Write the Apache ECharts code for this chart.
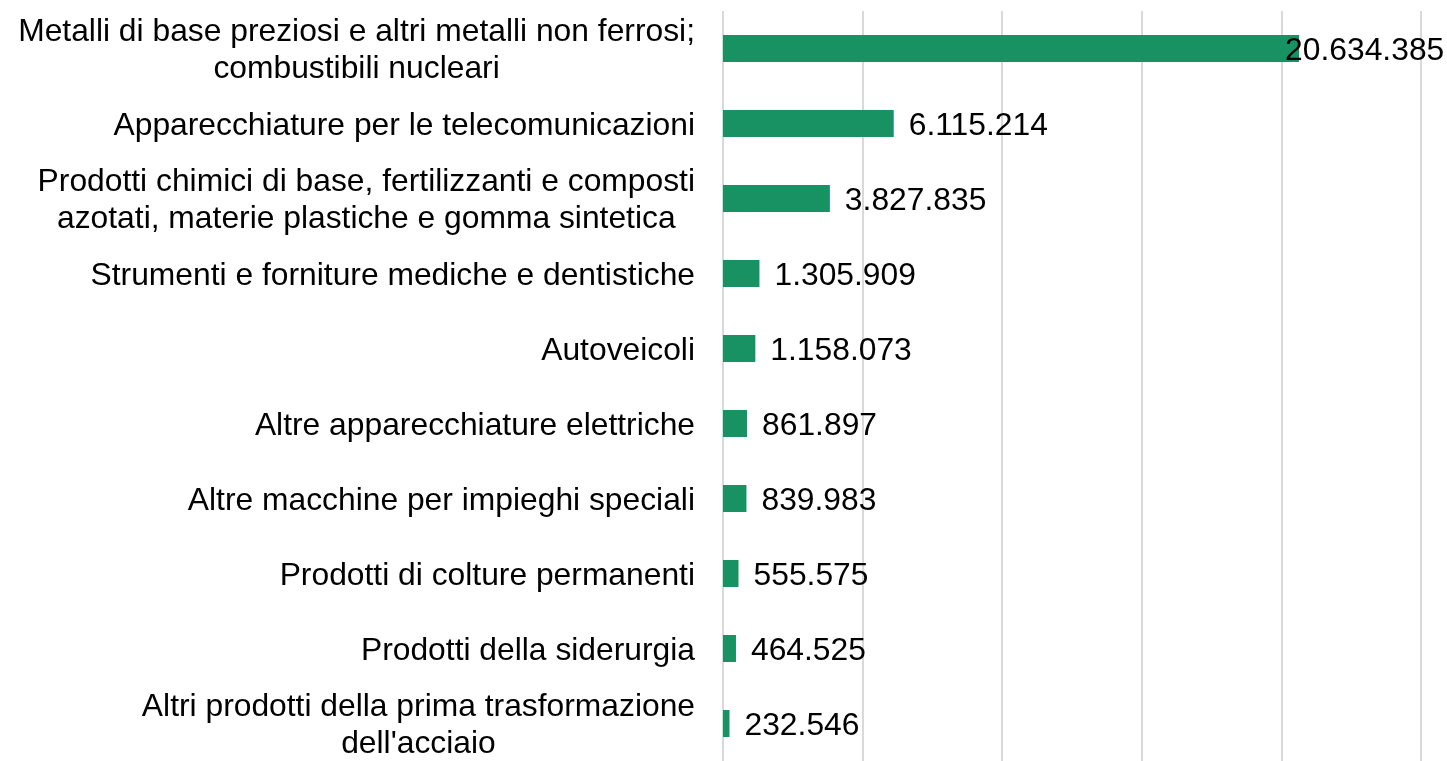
<!DOCTYPE html>
<html>
<head>
<meta charset="utf-8">
<script src="https://cdn.jsdelivr.net/npm/echarts@6/dist/echarts.min.js"></script>
<style>
  html, body { margin: 0; padding: 0; background: #fff; }
  #chart { width: 1447px; height: 761px; }
</style>
</head>
<body>
<div id="chart"></div>
<script>
// categorie (dall'alto verso il basso)
const categories = [
  "Metalli di base preziosi e altri metalli non ferrosi;\ncombustibili nucleari",
  "Apparecchiature per le telecomunicazioni",
  "Prodotti chimici di base, fertilizzanti e composti\nazotati, materie plastiche e gomma sintetica",
  "Strumenti e forniture mediche e dentistiche",
  "Autoveicoli",
  "Altre apparecchiature elettriche",
  "Altre macchine per impieghi speciali",
  "Prodotti di colture permanenti",
  "Prodotti della siderurgia",
  "Altri prodotti della prima trasformazione\ndell'acciaio"
];
const values = [20634385, 6115214, 3827835, 1305909, 1158073, 861897, 839983, 555575, 464525, 232546];

const fmt = v => String(v).replace(/\B(?=(\d{3})+(?!\d))/g, '.');
const font = '"Liberation Sans", Arial, sans-serif';
const fontSize = 31.8;

let chart = echarts.init(document.getElementById('chart'));
chart.setOption({
  animation: false,
  grid: { left: 723, right: 26, top: 11, height: 760 },
  xAxis: {
    type: 'value',
    min: 0,
    max: 25000000,
    interval: 5000000,
    axisLabel: { show: false },
    axisTick: { show: false },
    axisLine: { show: false },
    splitLine: { lineStyle: { color: '#d9d9d9', width: 2 } }
  },
  yAxis: {
    type: 'category',
    inverse: true,
    data: categories,
    axisLine: { show: false },
    axisTick: { show: false },
    axisLabel: {
      margin: 28,
      align: 'right',
      padding: [5, 0, 0, 0],
      // righe centrate tra loro, blocco allineato a destra
      formatter: function (v) {
        return v.split('\n').map(s => '{c|' + s + '}').join('\n');
      },
      rich: {
        c: {
          color: '#000',
          fontSize: fontSize,
          lineHeight: 37,
          fontFamily: font,
          align: 'center'
        }
      }
    }
  },
  series: [{
    type: 'bar',
    barWidth: 27,
    itemStyle: { color: '#189163' },
    data: values.map((v, i) => i === 0
      ? { value: v, label: { distance: -14 } }
      : v),
    label: {
      show: true,
      position: 'right',
      distance: 15,
      offset: [0, 3],
      color: '#000',
      fontSize: fontSize,
      fontFamily: font,
      formatter: p => fmt(p.value)
    }
  }]
});
window.addEventListener('resize', function () {
  chart.resize();
});
</script>
</body>
</html>
